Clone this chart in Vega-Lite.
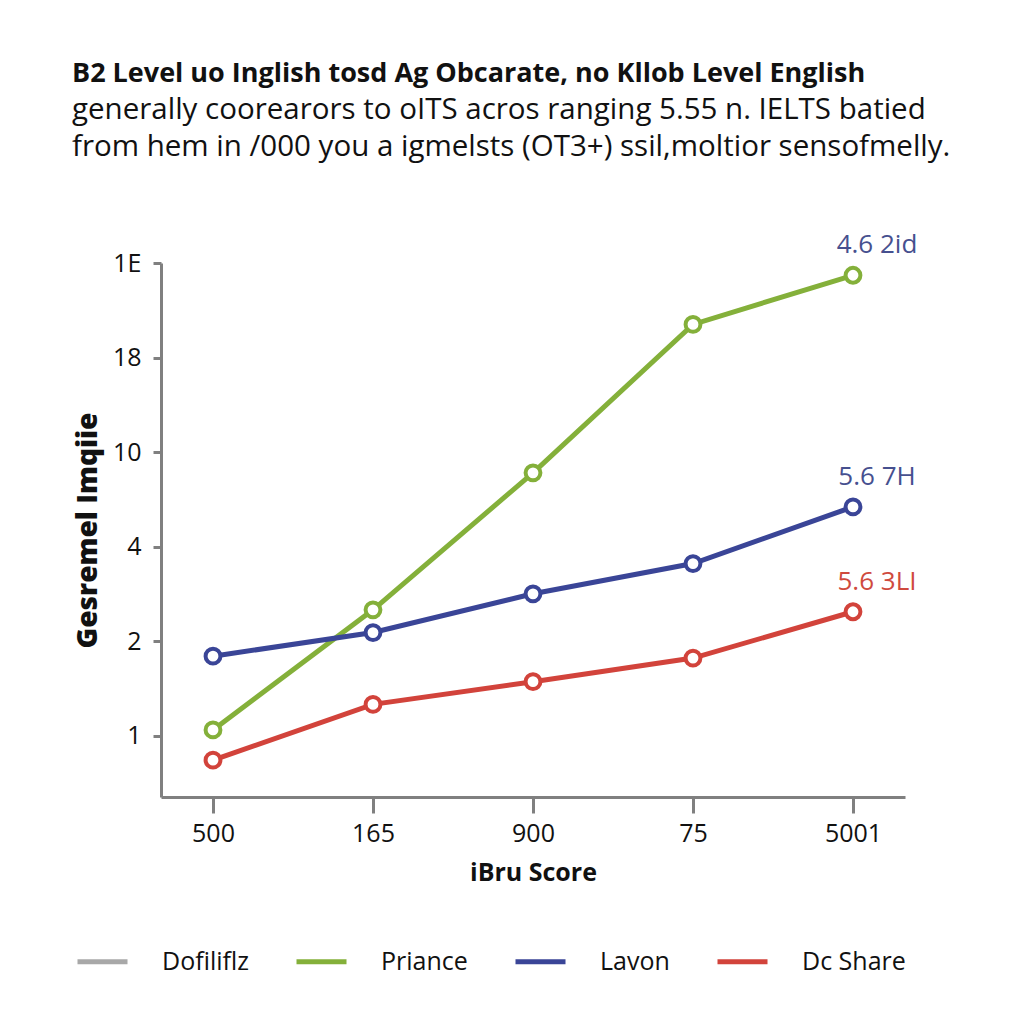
{
  "$schema": "https://vega.github.io/schema/vega-lite/v6.json",
  "width": 744,
  "height": 534,
  "autosize": {"type": "none"},
  "padding": {"left": 161, "top": 263, "right": 119, "bottom": 227},
  "background": "white",
  "config": {
    "font": "Open Sans",
    "view": {"stroke": null}
  },
  "title": {
    "text": "B2 Level uo Inglish tosd Ag Obcarate, no Kllob Level English",
    "subtitle": ["generally coorearors to oITS acros ranging 5.55 n. IELTS batied", "from hem in /000 you a igmelsts (OT3+) ssil,moltior sensofmelly."],
    "anchor": "start",
    "frame": "group",
    "dx": -89,
    "offset": 70,
    "font": "Open Sans",
    "fontSize": 27,
    "fontWeight": "bold",
    "color": "#111111",
    "subtitleFont": "Open Sans",
    "subtitleFontSize": 29.5,
    "subtitleColor": "#111111",
    "subtitleLineHeight": 37,
    "subtitlePadding": 8
  },
  "datasets": {
    "series": [
      {"score": "500", "v": 0.06, "series": "Priance"},
      {"score": "165", "v": 1.33, "series": "Priance"},
      {"score": "900", "v": 2.78, "series": "Priance"},
      {"score": "75", "v": 4.35, "series": "Priance"},
      {"score": "5001", "v": 4.87, "series": "Priance"},
      {"score": "500", "v": 0.84, "series": "Lavon"},
      {"score": "165", "v": 1.09, "series": "Lavon"},
      {"score": "900", "v": 1.5, "series": "Lavon"},
      {"score": "75", "v": 1.82, "series": "Lavon"},
      {"score": "5001", "v": 2.42, "series": "Lavon"},
      {"score": "500", "v": -0.26, "series": "Dc Share"},
      {"score": "165", "v": 0.33, "series": "Dc Share"},
      {"score": "900", "v": 0.57, "series": "Dc Share"},
      {"score": "75", "v": 0.82, "series": "Dc Share"},
      {"score": "5001", "v": 1.31, "series": "Dc Share"}
    ],
    "labels": [
      {"score": "5001", "v": 4.87, "series": "Priance", "label": "4.6 2id"},
      {"score": "5001", "v": 2.42, "series": "Lavon", "label": "5.6 7H"},
      {"score": "5001", "v": 1.31, "series": "Dc Share", "label": "5.6 3LI"}
    ]
  },
  "encoding": {
    "x": {
      "field": "score",
      "type": "ordinal",
      "sort": ["500", "165", "900", "75", "5001"],
      "scale": {"type": "point", "padding": 0.325},
      "axis": {
        "title": "iBru Score",
        "titleFont": "Open Sans",
        "titleFontSize": 25,
        "titleFontWeight": "bold",
        "titleColor": "#111111",
        "titlePadding": 14,
        "labelAngle": 0,
        "labelFont": "Open Sans",
        "labelFontSize": 25,
        "labelColor": "#111111",
        "labelPadding": 8,
        "tickSize": 16,
        "tickWidth": 3,
        "tickColor": "#808080",
        "domainColor": "#808080",
        "domainWidth": 3,
        "grid": false
      }
    },
    "y": {
      "field": "v",
      "type": "quantitative",
      "scale": {"domain": [-0.65, 5.0], "nice": false, "zero": false},
      "axis": {
        "title": "Gesremel Imqiie",
        "titleFont": "Open Sans",
        "titleFontSize": 28,
        "titleFontWeight": 800,
        "titleColor": "#111111",
        "titlePadding": 10,
        "values": [0, 1, 2, 3, 4, 5],
        "labelExpr": "datum.value == 0 ? '1' : datum.value == 1 ? '2' : datum.value == 2 ? '4' : datum.value == 3 ? '10' : datum.value == 4 ? '18' : '1E'",
        "labelFont": "Open Sans",
        "labelFontSize": 25,
        "labelColor": "#111111",
        "labelPadding": 12,
        "tickSize": 8,
        "tickWidth": 3,
        "tickColor": "#808080",
        "domainColor": "#808080",
        "domainWidth": 3,
        "grid": false
      }
    }
  },
  "layer": [
    {
      "data": {"name": "series"},
      "mark": {"type": "line", "strokeWidth": 5},
      "encoding": {
        "color": {
          "field": "series",
          "type": "nominal",
          "scale": {
            "domain": ["Dofiliflz", "Priance", "Lavon", "Dc Share"],
            "range": ["#a8a8a8", "#84b03a", "#3a4597", "#d2433b"]
          },
          "legend": {
            "title": null,
            "orient": "none",
            "legendX": -86,
            "legendY": 671,
            "direction": "horizontal",
            "columns": 4,
            "columnPadding": 37,
            "symbolType": "stroke",
            "symbolSize": 2500,
            "symbolStrokeWidth": 5,
            "labelOffset": 32,
            "labelFont": "Open Sans",
            "labelFontSize": 25,
            "labelColor": "#111111"
          }
        }
      }
    },
    {
      "data": {"name": "series"},
      "mark": {"type": "point", "shape": "circle", "filled": false, "fill": "white", "fillOpacity": 1, "size": 220, "strokeWidth": 4, "opacity": 1},
      "encoding": {
        "color": {"field": "series", "type": "nominal", "legend": null}
      }
    },
    {
      "data": {"name": "labels"},
      "mark": {"type": "text", "font": "Open Sans", "fontSize": 26, "dx": 24, "dy": -30, "align": "center", "baseline": "middle"},
      "encoding": {
        "text": {"field": "label"},
        "color": {
          "condition": {"test": "datum.series == 'Dc Share'", "value": "#cf4a3e"},
          "value": "#46508f"
        }
      }
    }
  ]
}
